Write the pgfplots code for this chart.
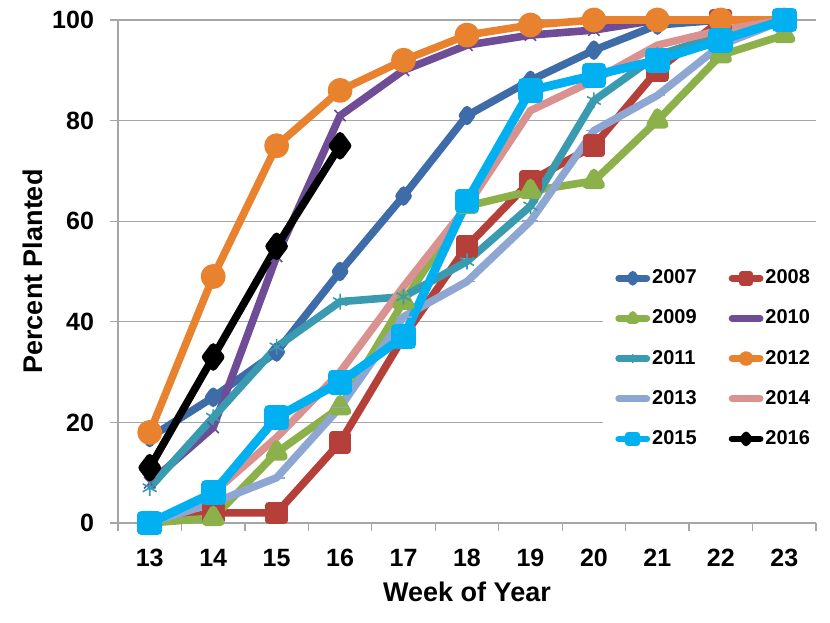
\documentclass[border=0pt]{standalone}
\usepackage{pgfplots}
\pgfplotsset{compat=1.18}
\usepackage{fontspec}
\setmainfont{Liberation Sans}
\definecolor{c07}{HTML}{3E6CA8}
\definecolor{c08}{HTML}{B5403A}
\definecolor{c09}{HTML}{8CB04A}
\definecolor{c10}{HTML}{6E4C96}
\definecolor{c11}{HTML}{3A9AB0}
\definecolor{c12}{HTML}{E8822F}
\definecolor{c13}{HTML}{8EA7D2}
\definecolor{c14}{HTML}{D9928F}
\definecolor{c15}{HTML}{00B0F0}
\definecolor{c16}{HTML}{000000}
\definecolor{gridc}{HTML}{A6A6A6}
\begin{document}
\begin{tikzpicture}
\useasboundingbox (-59pt,-49.5pt) rectangle (356pt,261.5pt);
\begin{axis}[
  at={(0,0)}, anchor=south west,
  scale only axis, width=349pt, height=251.5pt,
  xmin=12.5, xmax=23.5, ymin=0, ymax=100,
  clip=false,
  axis x line*=bottom, axis y line*=left,
  axis line style={draw=gridc, line width=0.6pt},
  xtick={12.5,13.5,...,23.5}, xticklabels={},
  extra x ticks={13,14,...,23},
  extra x tick style={tick style={draw=none}, grid=none},
  ytick={0,20,...,100},
  ymajorgrids,
  major grid style={draw=gridc, line width=0.6pt},
  tick align=outside,
  major tick length=4pt,
  tick style={draw=gridc, line width=0.6pt},
  /pgf/number format/assume math mode=true,
  ticklabel style={font=\fontsize{12.5}{14}\selectfont\bfseries},
  yticklabel style={xshift=-4.5pt},
  xticklabel style={yshift=-5.5pt},
  xlabel={Week of Year}, ylabel={Percent Planted},
  label style={font=\fontsize{13.5}{15}\selectfont\bfseries},
  xlabel style={at={(rel axis cs:0.5,0)}, anchor=center, yshift=-34.5pt},
  ylabel style={at={(rel axis cs:-0.1218,0.5)}, anchor=center},
  every axis plot/.append style={line width=3.8pt, line join=round},
  legend columns=2,
  legend cell align=left,
  legend style={at={(rel axis cs:1.012,0.54)}, anchor=north east,
    draw=none, fill=white, font=\fontsize{10}{12}\selectfont\bfseries,
    inner xsep=6pt, inner ysep=7pt, row sep=7.6pt,
    nodes={inner xsep=1pt},
    /tikz/every even column/.append style={column sep=15pt}},
  legend image post style={mark size=2pt},
  legend image code/.code={\draw[#1, line width=3.4pt, line cap=round, mark repeat=2, mark phase=2] plot coordinates {(0pt,0pt) (7pt,0pt) (14pt,0pt)};},
]
\addplot[c07, mark=diamond*, mark size=3pt] coordinates {(13,17) (14,25) (15,34) (16,50) (17,65) (18,81) (19,88) (20,94) (21,99) (22,100) (23,100)};
\addlegendentry{2007}
\addplot[c08, mark=square*, mark size=3.8pt] coordinates {(13,0) (14,2) (15,2) (16,16) (17,37) (18,55) (19,68) (20,75) (21,90) (22,100) (23,100)};
\addlegendentry{2008}
\addplot[c09, mark=triangle*, mark size=4.3pt] coordinates {(13,0) (14,1) (15,14) (16,23) (17,44) (18,63) (19,66) (20,68) (21,80) (22,93) (23,97)};
\addlegendentry{2009}
\addplot[c10, mark=x, mark size=4pt, mark options={line width=0.8pt}] coordinates {(13,8) (14,19) (15,53) (16,81) (17,90) (18,95) (19,97) (20,98) (21,100) (22,100) (23,100)};
\addlegendentry{2010}
\addplot[c11, mark=asterisk, mark size=4pt, mark options={line width=0.8pt}] coordinates {(13,7) (14,21) (15,35) (16,44) (17,45) (18,52) (19,63) (20,84) (21,93) (22,97) (23,100)};
\addlegendentry{2011}
\addplot[c12, mark=*, mark size=4.3pt] coordinates {(13,18) (14,49) (15,75) (16,86) (17,92) (18,97) (19,99) (20,100) (21,100) (22,100) (23,100)};
\addlegendentry{2012}
\addplot[c13, mark=-, mark size=4pt, mark options={line width=0.8pt}] coordinates {(13,0) (14,4) (15,9) (16,23) (17,41) (18,48) (19,60) (20,78) (21,85) (22,95) (23,100)};
\addlegendentry{2013}
\addplot[c14, no markers] coordinates {(13,0) (14,6) (15,17) (16,30) (17,47) (18,63) (19,82) (20,88) (21,95) (22,98) (23,100)};
\addlegendentry{2014}
\addplot[c15, mark=square*, mark size=4pt, line width=4.4pt] coordinates {(13,0) (14,6) (15,21) (16,28) (17,37) (18,64) (19,86) (20,89) (21,92) (22,96) (23,100)};
\addlegendentry{2015}
\addplot[c16, mark=diamond*, mark size=5pt] coordinates {(13,11) (14,33) (15,55) (16,75)};
\addlegendentry{2016}
\end{axis}
\end{tikzpicture}
\end{document}
